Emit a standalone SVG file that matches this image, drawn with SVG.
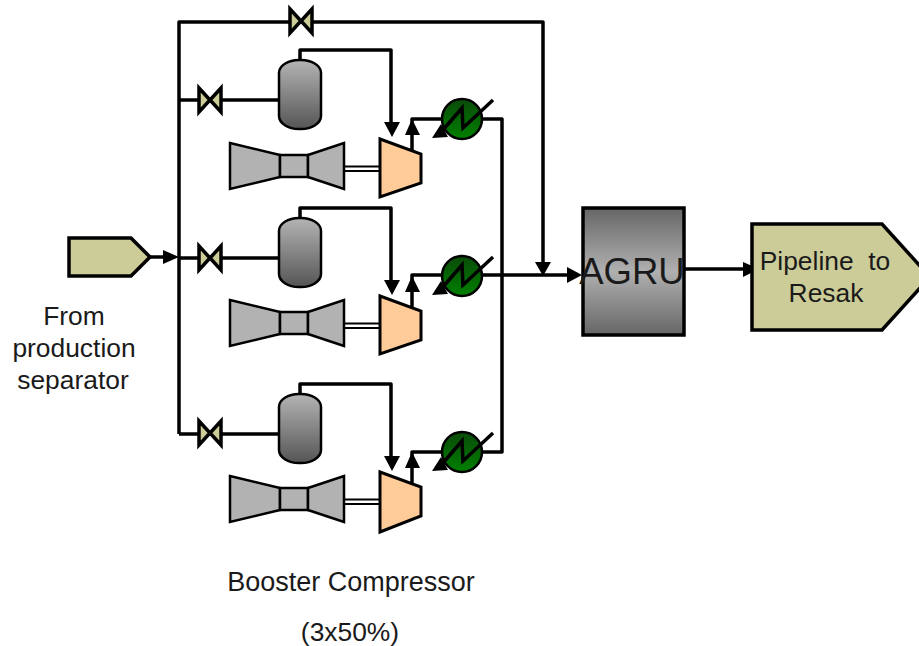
<svg xmlns="http://www.w3.org/2000/svg" width="919" height="646" viewBox="0 0 919 646">
<style>
text{font-family:"Liberation Sans",Arial,sans-serif;fill:#1a1a1a}
.l{font-size:26.400px;text-anchor:middle}
.p{fill:none;stroke:#000;stroke-width:3.5;stroke-linejoin:round}
.a{fill:#000}
.v{fill:#cccc99;stroke:#000;stroke-width:3.5}
.t{fill:#b2b2b2;stroke:#000;stroke-width:2.5}
.c{fill:#ffcc99;stroke:#000;stroke-width:3}
.h{fill:url(#hx);stroke:#000;stroke-width:2.5}
.d{fill:url(#drum);stroke:#000;stroke-width:2.5}
.z{fill:none;stroke:#000;stroke-width:3.5}
</style>
<defs>
<linearGradient id="drum" x1="0" y1="0" x2="0" y2="1"><stop offset="0" stop-color="#b4b4b4"/><stop offset="1" stop-color="#555"/></linearGradient>
<linearGradient id="hx" x1="0" y1="0" x2="0" y2="1"><stop offset="0" stop-color="#0a4a0a"/><stop offset="1" stop-color="#008000"/></linearGradient>
<linearGradient id="ag" x1="0" y1="0" x2="0" y2="1"><stop offset="0" stop-color="#666"/><stop offset=".5" stop-color="#b0b0b0"/><stop offset="1" stop-color="#666"/></linearGradient>
<g id="valve"><path class="v" d="M-11-12 0 0-11 12ZM11-12 0 0 11 12Z"/></g>
<g id="drumS"><rect class="d" x="-21" y="0" width="42" height="69" rx="20" ry="13"/></g>
<g id="turb"><path class="t" d="M230 143 280 155V177L230 189Z"/><rect class="t" x="280" y="155" width="28" height="22"/><path class="t" d="M308 155 344 143V189L308 177Z"/><path d="M344 166.500H379M344 171H379" stroke="#000" stroke-width="2" fill="none"/></g>
<g id="cool"><circle class="h" cx="0" cy="0" r="20"/><path class="z" d="M-20 12 0-11 1 9 31-19"/><path class="a" d="M-30 19-21 5-14 18Z"/></g>
</defs>
<g id="connectors">
<path class="p" d="M179 434V22H543V262"/>
<path class="p" d="M179 100H279M179 258H279M179 434H279"/>
<path class="p" d="M150 257H165"/>
<path class="a" d="M163 250 179 257 163 264Z"/>
<path class="p" d="M300 60V50H391V125"/><path class="a" d="M384 122H400L392 137Z"/>
<path class="p" d="M300 218V208H391V283"/><path class="a" d="M384 280H400L392 295Z"/>
<path class="p" d="M300 394V384H391V459"/><path class="a" d="M384 456H400L392 471Z"/>
<path class="p" d="M412 150V119H441M482 119H502V452H482M412 484V452H441"/>
<path class="p" d="M412 308V275H570"/>
<path class="a" d="M405 135H420L412 119ZM405 292H420L412 276ZM405 468H420L412 452Z"/>
<path class="a" d="M535 262H551L543 276Z"/>
<path class="a" d="M567 267 582 275 567 283Z"/>
<path class="p" d="M685 269H748"/>
<path class="a" d="M743 262 759 269 743 277Z"/>
</g>
<g id="feed"><path class="v" d="M69 238H131L150 257 131 276H69Z"/></g>
<g id="valve-top"><use href="#valve" x="301" y="21"/></g>
<g id="valve-1"><use href="#valve" x="210" y="100"/></g>
<g id="valve-2"><use href="#valve" x="210" y="258"/></g>
<g id="valve-3"><use href="#valve" x="210" y="433"/></g>
<g id="drum-1"><use href="#drumS" x="300" y="60"/></g>
<g id="drum-2"><use href="#drumS" x="300" y="218"/></g>
<g id="drum-3"><use href="#drumS" x="300" y="394"/></g>
<g id="turbine-1"><use href="#turb"/></g>
<g id="turbine-2"><use href="#turb" y="157"/></g>
<g id="turbine-3"><use href="#turb" y="333"/></g>
<g id="compressor-1"><path class="c" d="M380 139 421 154V183L380 197Z"/></g>
<g id="compressor-2"><path class="c" d="M380 296 421 311V340L380 354Z"/></g>
<g id="compressor-3"><path class="c" d="M380 472 421 487V516L380 532Z"/></g>
<g id="cooler-1"><use href="#cool" x="462" y="119"/></g>
<g id="cooler-2"><use href="#cool" x="462" y="276"/></g>
<g id="cooler-3"><use href="#cool" x="462" y="452"/></g>
<g id="agru"><rect x="583" y="208" width="101" height="127" fill="url(#ag)" stroke="#000" stroke-width="3.500"/><text x="632" y="284" font-size="36.500" text-anchor="middle">AGRU</text></g>
<g id="pipeline"><path class="v" d="M752 224H882L930 277 882 330H752Z"/><text class="l" x="825" y="270" xml:space="preserve">Pipeline  to</text><text class="l" x="826" y="302">Resak</text></g>
<g id="labels">
<text class="l" x="74" y="325">From</text>
<text class="l" x="74" y="357">production</text>
<text class="l" x="73" y="389">separator</text>
<text class="l" x="351" y="591" font-size="27" style="font-size:27px">Booster Compressor</text>
<text class="l" x="350" y="641">(3x50%)</text>
</g>
</svg>
